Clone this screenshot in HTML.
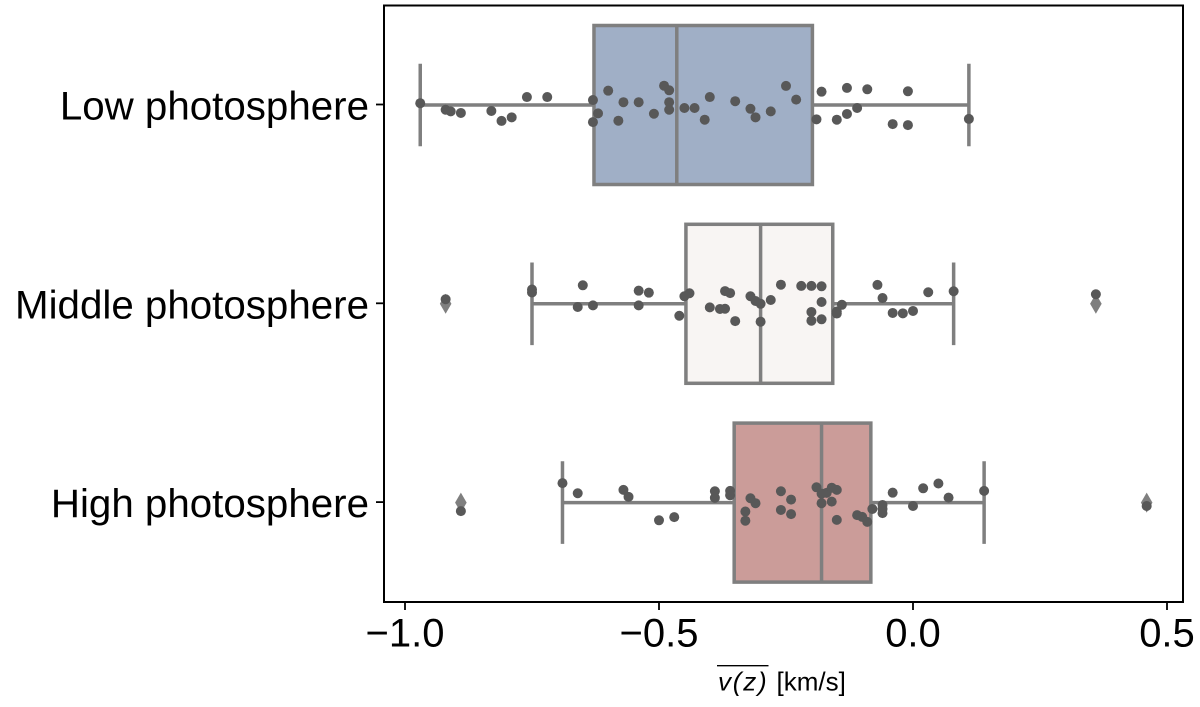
<!DOCTYPE html>
<html>
<head>
<meta charset="utf-8">
<style>
html,body{margin:0;padding:0;background:#fff;}
svg{display:block;font-family:"Liberation Sans",Arial,sans-serif;}
</style>
</head>
<body>
<svg id="chart" xmlns="http://www.w3.org/2000/svg" width="1200" height="707" viewBox="0 0 1200 707"></svg>
<script>
const categories = ['Low photosphere', 'Middle photosphere', 'High photosphere'];
const xTicks = [-1.0, -0.5, 0.0, 0.5];
const xTickLabels = ['\u22121.0', '\u22120.5', '0.0', '0.5'];
const q1Values = [-0.628, -0.447, -0.352];
const medianValues = [-0.465, -0.30, -0.18];
const q3Values = [-0.198, -0.158, -0.083];
const whiskerLow = [-0.97, -0.75, -0.69];
const whiskerHigh = [0.11, 0.08, 0.14];
const outliersLow = [];
const outliersMiddle = [-0.92, 0.36];
const outliersHigh = [-0.89, 0.46];
const boxColors = ['#a0afc6', '#f8f5f3', '#cb9c99'];

const lowValues = [-0.97,-0.92,-0.91,-0.89,-0.83,-0.81,-0.79,-0.76,-0.72,-0.63,-0.63,-0.62,-0.60,-0.58,-0.57,-0.54,-0.51,-0.49,-0.48,-0.48,-0.48,-0.45,-0.43,-0.41,-0.40,-0.35,-0.32,-0.31,-0.28,-0.25,-0.23,-0.19,-0.18,-0.15,-0.13,-0.13,-0.11,-0.09,-0.04,-0.01,-0.01,0.11];
const lowJitter = [-0.009,0.024,0.032,0.040,0.030,0.080,0.062,-0.040,-0.040,-0.025,0.086,0.042,-0.072,0.079,-0.014,-0.014,0.044,-0.097,-0.074,-0.014,0.024,0.015,0.015,0.074,-0.040,-0.019,0.019,0.062,0.032,-0.096,-0.027,0.072,-0.067,0.074,0.045,-0.086,0.015,-0.079,0.096,-0.069,0.101,0.070];

const middleValues = [-0.92,-0.75,-0.75,-0.65,-0.66,-0.63,-0.54,-0.52,-0.54,-0.46,-0.45,-0.44,-0.40,-0.38,-0.37,-0.37,-0.36,-0.35,-0.32,-0.31,-0.30,-0.30,-0.28,-0.26,-0.22,-0.20,-0.18,-0.18,-0.20,-0.20,-0.18,-0.15,-0.15,-0.14,-0.07,-0.06,-0.04,-0.02,0.00,0.03,0.08,0.36];
const middleJitter = [-0.023,-0.072,-0.057,-0.093,0.016,0.008,-0.066,-0.056,0.008,0.060,-0.038,-0.053,0.018,0.026,0.025,-0.064,-0.054,0.087,-0.038,-0.014,0.000,0.090,-0.019,-0.096,-0.090,-0.090,-0.088,-0.009,0.041,0.085,0.078,0.039,0.049,0.005,-0.095,-0.029,0.046,0.048,0.036,-0.058,-0.063,-0.048];

const highValues = [-0.89,-0.69,-0.66,-0.57,-0.56,-0.50,-0.47,-0.39,-0.39,-0.36,-0.36,-0.32,-0.31,-0.33,-0.33,-0.26,-0.24,-0.26,-0.24,-0.19,-0.18,-0.17,-0.18,-0.16,-0.15,-0.16,-0.15,-0.11,-0.10,-0.09,-0.08,-0.06,-0.06,-0.06,-0.04,0.00,0.02,0.05,0.07,0.14,0.46];
const highJitter = [0.043,-0.098,-0.047,-0.064,-0.029,0.089,0.073,-0.057,-0.024,-0.059,-0.037,-0.022,0.003,0.045,0.091,-0.057,-0.015,0.037,0.058,-0.077,-0.045,-0.049,0.003,-0.075,-0.064,-0.005,0.087,0.063,0.072,0.097,0.032,0.012,0.032,0.053,-0.050,0.017,-0.072,-0.096,-0.025,-0.059,0.017];

const svg = document.getElementById('chart');
const NS = 'http://www.w3.org/2000/svg';
const xScale = v => 913 + 508 * v;
const yScale = c => 105 + 198.8 * c;
const LINE = '#7f7f7f';
const DOT = '#585858';

function make(tag, attrs, text) {
  const el = document.createElementNS(NS, tag);
  for (const k in attrs) el.setAttribute(k, attrs[k]);
  if (text !== undefined) el.textContent = text;
  return el;
}

const allOutliers = [outliersLow, outliersMiddle, outliersHigh];
const allValues = [lowValues, middleValues, highValues];
const allJitter = [lowJitter, middleJitter, highJitter];

categories.forEach((name, i) => {
  const cy = yScale(i);
  const group = make('g', {});
  
  
  svg.appendChild(group);

  const whisker1 = make('line', {x1: xScale(whiskerLow[i]), x2: xScale(q1Values[i]), y1: cy, y2: cy, stroke: LINE, 'stroke-width': 3.5});
  
  
  group.appendChild(whisker1);

  const whisker2 = make('line', {x1: xScale(q3Values[i]), x2: xScale(whiskerHigh[i]), y1: cy, y2: cy, stroke: LINE, 'stroke-width': 3.5});
  
  
  group.appendChild(whisker2);

  [whiskerLow[i], whiskerHigh[i]].forEach(w => {
    const cap = make('line', {x1: xScale(w), x2: xScale(w), y1: cy - 41.3, y2: cy + 41.3, stroke: LINE, 'stroke-width': 3.5});
    
    
    group.appendChild(cap);
  });

  const box = make('rect', {x: xScale(q1Values[i]), y: cy - 79.5, width: xScale(q3Values[i]) - xScale(q1Values[i]), height: 159, fill: boxColors[i], stroke: LINE, 'stroke-width': 3.5});
  
  
  group.appendChild(box);

  const med = make('line', {x1: xScale(medianValues[i]), x2: xScale(medianValues[i]), y1: cy - 79.5, y2: cy + 79.5, stroke: LINE, 'stroke-width': 3.5});
  
  
  group.appendChild(med);

  allOutliers[i].forEach(v => {
    const px = xScale(v);
    const d = make('polygon', {points: [px, cy - 10, px + 5.8, cy, px, cy + 10, px - 5.8, cy].join(' '), fill: LINE});
    
    
    group.appendChild(d);
  });

  allValues[i].forEach((v, j) => {
    const c = make('circle', {cx: xScale(v), cy: yScale(i + allJitter[i][j]), r: 5, fill: DOT});
    
    
    group.appendChild(c);
  });

  const tick = make('line', {x1: 376, x2: 384, y1: cy - 0.5, y2: cy - 0.5, stroke: '#000', 'stroke-width': 1.8});
  
  
  svg.appendChild(tick);

  const label = make('text', {x: 369, y: cy + 14.5, 'text-anchor': 'end', 'font-size': 40.3, fill: '#000'}, name);
  
  
  svg.appendChild(label);
});

xTicks.forEach((t, i) => {
  const tick = make('line', {x1: xScale(t), x2: xScale(t), y1: 602, y2: 610, stroke: '#000', 'stroke-width': 1.8});
  
  
  svg.appendChild(tick);

  const label = make('text', {x: xScale(t), y: 646.5, 'text-anchor': 'middle', 'font-size': 40, fill: '#000'}, xTickLabels[i]);
  
  
  svg.appendChild(label);
});

const frame = make('rect', {x: 384, y: 5.5, width: 799, height: 596.5, fill: 'none', stroke: '#000', 'stroke-width': 2});


svg.appendChild(frame);

const bar = make('line', {x1: 717, x2: 768.5, y1: 665.7, y2: 665.7, stroke: '#000', 'stroke-width': 1.3});


svg.appendChild(bar);

const title = make('text', {y: 690.5, 'font-size': 26, fill: '#000'});


const it = make('tspan', {x: 718, 'font-style': 'italic', 'letter-spacing': 1.8}, 'v(z)');
title.appendChild(it);
title.appendChild(make('tspan', {x: 776.5}, '[km/s]'));
svg.appendChild(title);
</script>
</body>
</html>
